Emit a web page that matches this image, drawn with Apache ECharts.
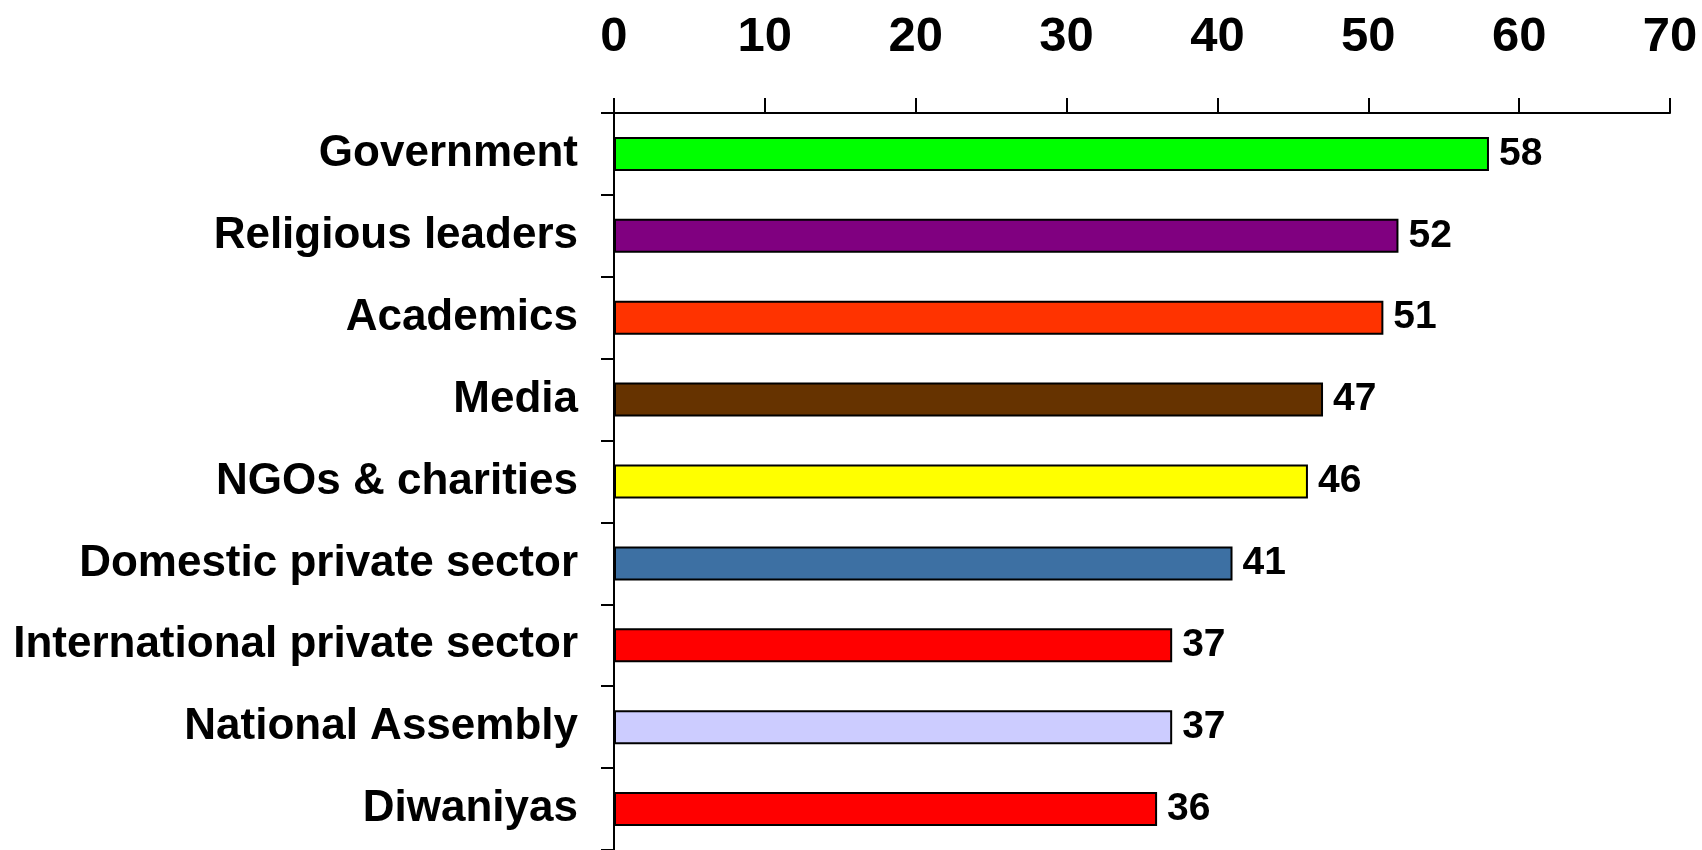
<!DOCTYPE html>
<html>
<head>
<meta charset="utf-8">
<script src="https://cdn.jsdelivr.net/npm/echarts@6/dist/echarts.min.js"></script>
<style>
  html, body { margin: 0; padding: 0; background: #ffffff; }
  #chart { width: 1702px; height: 850px; }
</style>
</head>
<body>
<div id="chart"></div>
<script>
// Who is trusted: share of respondents per institution
const categories = [
  'Government',
  'Religious leaders',
  'Academics',
  'Media',
  'NGOs & charities',
  'Domestic private sector',
  'International private sector',
  'National Assembly',
  'Diwaniyas'
];
const values = [58, 52, 51, 47, 46, 41, 37, 37, 36];
const barColors = [
  '#00FF00', '#800080', '#FF3300', '#663300', '#FFFF00',
  '#3D70A3', '#FF0000', '#CCCCFF', '#FF0000'
];
const xTicks = { min: 0, max: 70, step: 10 };

const FONT = '"Liberation Sans", Arial, sans-serif';

const chart = echarts.init(document.getElementById('chart'), null, { renderer: 'canvas' });

chart.setOption({
  animation: false,
  backgroundColor: '#ffffff',
  grid: { left: 614, right: 32, top: 113, bottom: -2 },
  xAxis: {
    type: 'value',
    position: 'top',
    min: xTicks.min,
    max: xTicks.max,
    interval: xTicks.step,
    axisLine: { show: true, lineStyle: { color: '#000', width: 2 } },
    axisTick: { show: true, inside: false, length: 15, lineStyle: { color: '#000', width: 2 } },
    splitLine: { show: false },
    axisLabel: {
      color: '#000',
      fontFamily: FONT,
      fontWeight: 'bold',
      fontSize: 49,
      margin: 51
    }
  },
  yAxis: {
    type: 'category',
    inverse: true,
    data: categories,
    axisLine: { show: true, lineStyle: { color: '#000', width: 2 } },
    axisTick: { show: true, alignWithLabel: false, length: 13, lineStyle: { color: '#000', width: 2 } },
    axisLabel: {
      color: '#000',
      fontFamily: FONT,
      fontWeight: 'bold',
      fontSize: 44,
      margin: 36,
      padding: [7, 0, 0, 0]
    }
  },
  series: [{
    type: 'bar',
    barWidth: 34,
    data: values.map((v, i) => ({
      value: v,
      itemStyle: { color: barColors[i] }
    })),
    itemStyle: { borderColor: '#000', borderWidth: 2 },
    label: {
      show: true,
      position: 'right',
      distance: 10,
      color: '#000',
      fontFamily: FONT,
      fontWeight: 'bold',
      fontSize: 39,
      padding: [7, 0, 0, 0]
    }
  }]
});
</script>
</body>
</html>
